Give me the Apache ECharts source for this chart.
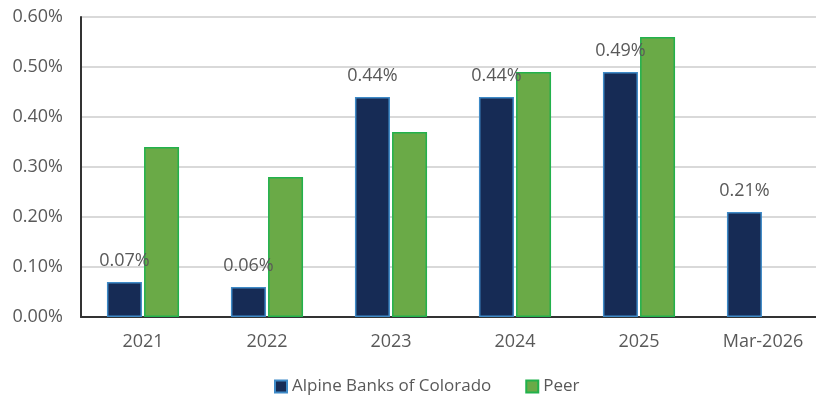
<!DOCTYPE html>
<html>
<head>
<meta charset="utf-8">
<script src="https://cdn.jsdelivr.net/npm/echarts@6/dist/echarts.min.js"></script>
<style>
  html, body { margin: 0; padding: 0; background: #fff; }
  #chart { width: 816px; height: 398px; }
</style>
</head>
<body>
<div id="chart"></div>
<script>
const categories = ['2021', '2022', '2023', '2024', '2025', 'Mar-2026'];
const alpineValues = [0.07, 0.06, 0.44, 0.44, 0.49, 0.21];
const peerValues = [0.34, 0.28, 0.37, 0.49, 0.56, null];
const seriesNames = ['Alpine Banks of Colorado', 'Peer'];

const chart = echarts.init(document.getElementById('chart'));

const textColor = '#595959';
const fontFamily = '"Open Sans", "Noto Sans", sans-serif';

const option = {
  animation: false,
  textStyle: { fontFamily: fontFamily },
  // plot runs past the right edge of the canvas, like the original
  grid: { left: 81, width: 744, top: 17, height: 300, outerBoundsMode: 'none' },
  legend: {
    top: 376,
    left: 269,
    padding: [2, 5],
    itemWidth: 12,
    itemHeight: 12,
    itemGap: 34,
    icon: 'rect',
    textStyle: { color: textColor, fontSize: 17, fontFamily: fontFamily },
    data: seriesNames
  },
  xAxis: {
    type: 'category',
    data: categories,
    axisLine: { lineStyle: { color: '#333', width: 2 } },
    axisTick: { show: false },
    axisLabel: { color: textColor, fontSize: 18, margin: 16 }
  },
  yAxis: {
    type: 'value',
    min: 0,
    max: 0.6,
    interval: 0.1,
    axisLine: { show: true, lineStyle: { color: '#333', width: 2 } },
    axisTick: { show: false },
    axisLabel: {
      color: textColor,
      fontSize: 18,
      margin: 18,
      formatter: v => v.toFixed(2) + '%'
    },
    splitLine: { lineStyle: { color: '#d9d9d9', width: 2 } }
  },
  series: [
    {
      name: seriesNames[0],
      type: 'bar',
      data: alpineValues,
      barWidth: 35,
      barGap: '6%',
      itemStyle: { color: '#162B55', borderColor: '#3E8AC7', borderWidth: 1.5 },
      label: {
        show: true,
        position: 'top',
        distance: 12,
        color: textColor,
        fontSize: 18,
        formatter: p => p.value.toFixed(2) + '%'
      }
    },
    {
      name: seriesNames[1],
      type: 'bar',
      data: peerValues,
      barWidth: 35,
      itemStyle: { color: '#6AAA47', borderColor: '#22B14C', borderWidth: 1.5 }
    }
  ]
};

chart.setOption(option);
</script>
</body>
</html>
